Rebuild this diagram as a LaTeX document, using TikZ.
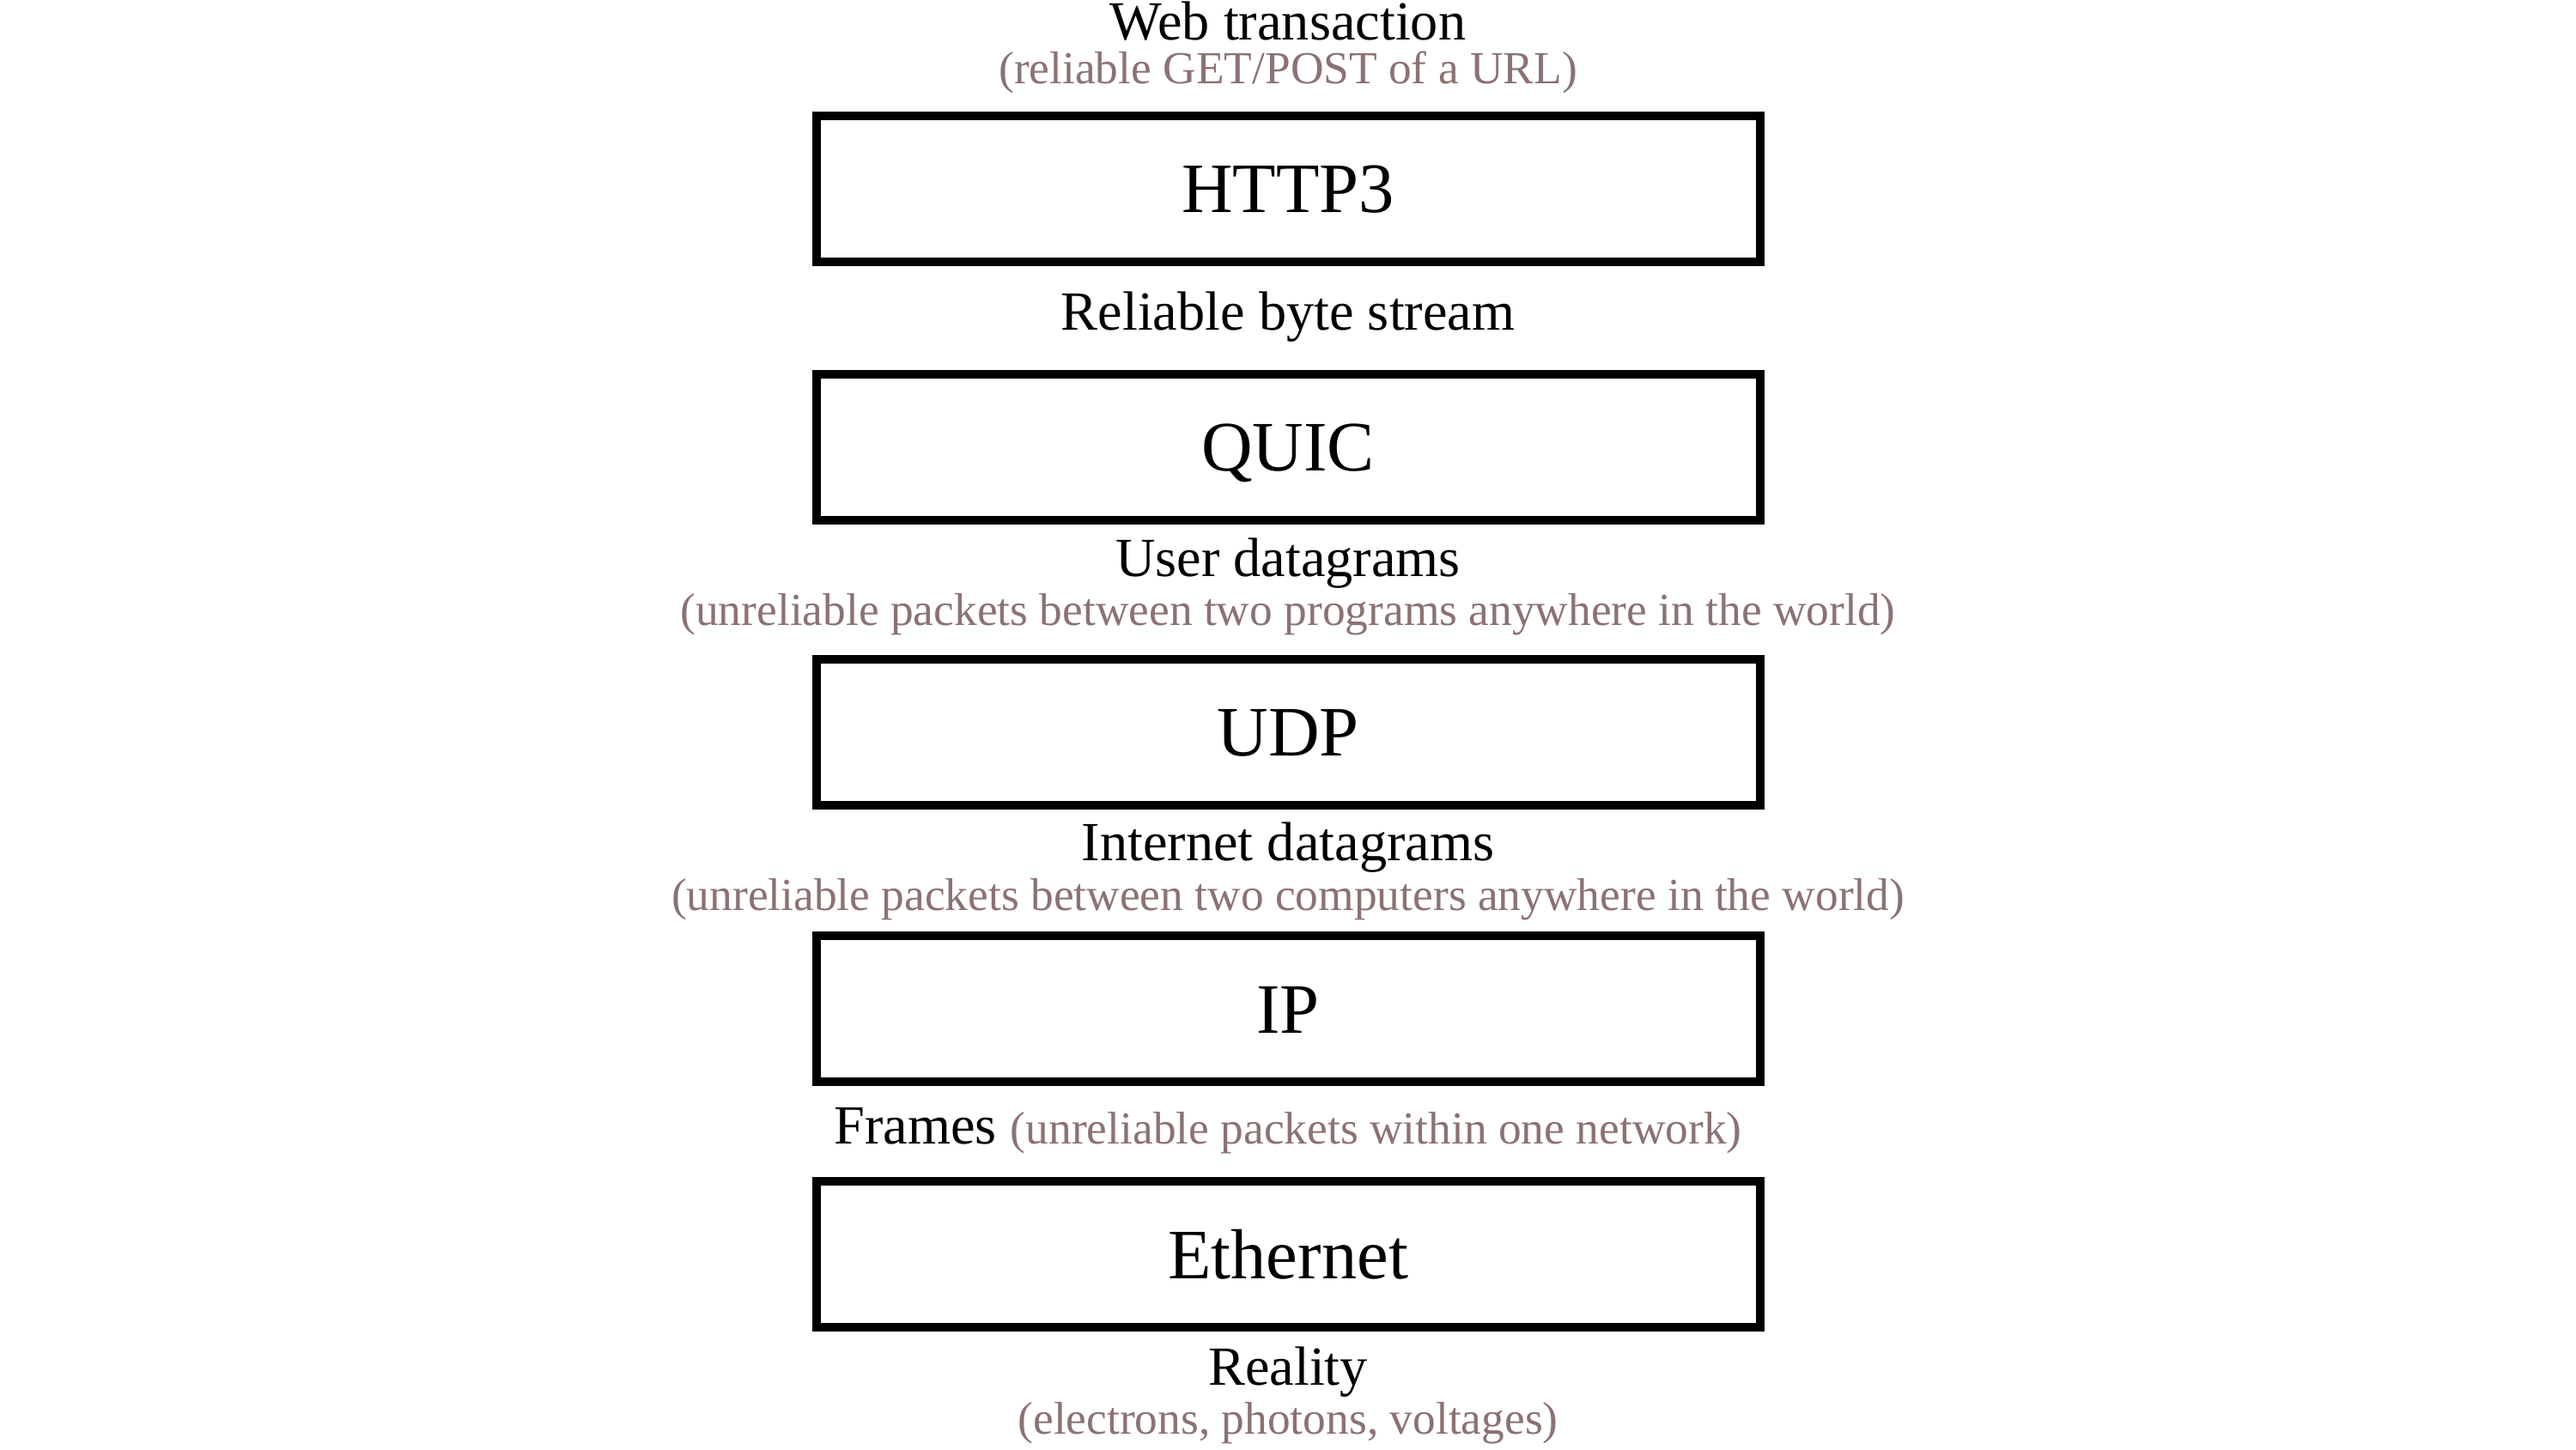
\documentclass[tikz,border=0pt]{standalone}
\usepackage{fontspec}
\setmainfont{Liberation Serif}
\usetikzlibrary{positioning}

\definecolor{remarkgray}{RGB}{140,114,114}

\begin{document}
\begin{tikzpicture}
  [layer/.style={rectangle,draw,line width=0.1cm,inner sep=0pt,
     minimum width=10.99cm,minimum height=1.7cm,
     text height=0.56cm,text depth=0pt,
     font=\fontsize{23.5}{28}\selectfont},
   iface/.style={anchor=base,inner sep=0pt,font=\fontsize{18.3}{22}\selectfont},
   remark/.style={anchor=base,inner sep=0pt,text=remarkgray,
     font=\fontsize{15.2}{19}\selectfont}]
  \useasboundingbox (0,0) rectangle (30,16.88);

  \node[iface] (web) at (15,16.41) {Web transaction};
  \node[remark] (webr) at (15,15.90) {(reliable GET/POST of a URL)};
  \node[layer] (http) at (15,14.68) {HTTP3};

  \node[iface] (bytes) at (15,13.03) {Reliable byte stream};
  \node[layer] (quic) at (15,11.67) {QUIC};

  \node[iface] (user) at (15,10.16) {User datagrams};
  \node[remark] (userr) at (15,9.59) {(unreliable packets between two programs anywhere in the world)};
  \node[layer] (udp) at (15,8.35) {UDP};

  \node[iface] (inet) at (15,6.86) {Internet datagrams};
  \node[remark] (inetr) at (15,6.28) {(unreliable packets between two computers anywhere in the world)};
  \node[layer] (ip) at (15,5.13) {IP};

  \node[iface] (frames) at (15,3.56) {Frames {\color{remarkgray}\fontsize{15.2}{19}\selectfont (unreliable packets within one network)}};
  \node[layer] (eth) at (15,2.27) {Ethernet};

  \node[iface] (real) at (15,0.75) {Reality};
  \node[remark] (realr) at (15,0.18) {(electrons, photons, voltages)};
\end{tikzpicture}
\end{document}
